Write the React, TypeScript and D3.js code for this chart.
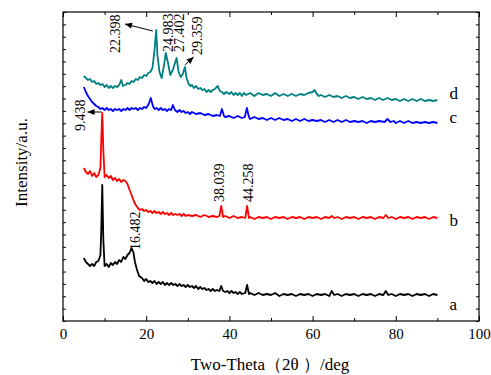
import { useEffect, useRef } from 'react'
import * as d3 from 'd3'

// XRD patterns, two-theta (deg) vs. intensity (a.u., stacked offsets)
const seriesA: [number, number][] = [
  [5, 63], [5.5, 59], [6, 57], [6.5, 55], [7, 57], [7.5, 55], [8, 59], [8.5, 60], [9, 66], [9.2, 91],
  [9.438, 136], [9.7, 81], [10, 55], [10.5, 57], [11, 54], [11.5, 58], [12, 56], [12.5, 59], [13, 57],
  [13.5, 61], [14, 59], [14.5, 64], [15, 62], [15.5, 66], [16, 68], [16.482, 73], [16.9, 69], [17.3, 59],
  [17.8, 51], [18.3, 45], [19, 43], [19.5, 40], [20, 42], [20.5, 39], [21, 40], [21.5, 38], [22, 40],
  [22.5, 37], [23, 39], [23.5, 37], [24, 39], [24.5, 36], [25, 38], [25.5, 36], [26, 38], [26.5, 36],
  [27, 37], [27.5, 35], [28, 37], [28.5, 35], [29, 36], [29.5, 34], [30, 36], [30.5, 34], [31, 35],
  [31.5, 33], [32, 35], [32.5, 32], [33, 34], [33.5, 32], [34, 33], [34.5, 31], [35, 32], [35.5, 30],
  [36, 32], [36.5, 30], [37, 31], [37.6, 30], [38.039, 35], [38.5, 30], [39, 29], [39.5, 30], [40, 28],
  [40.5, 30], [41, 28], [41.5, 29], [42, 27], [42.5, 29], [43, 27], [43.8, 28], [44.258, 36], [44.7, 27],
  [45, 28], [46, 26], [47, 28], [48, 26], [49, 27], [50, 26], [51, 28], [52, 25], [53, 27], [54, 26],
  [55, 27], [56, 25], [57, 27], [58, 26], [59, 27], [60, 25], [61, 27], [62, 26], [63, 27], [64, 25],
  [64.6, 30], [65.2, 26], [66, 27], [67, 25], [68, 27], [69, 26], [70, 27], [71, 25], [72, 27], [73, 26],
  [74, 27], [75, 25], [76, 27], [77, 26], [77.6, 30], [78.2, 26], [79, 27], [80, 25], [81, 27], [82, 26],
  [83, 27], [84, 25], [85, 27], [86, 26], [87, 27], [88, 25], [89, 27], [90, 26],
]

const seriesB: [number, number][] = [
  [5, 153], [5.5, 149], [6, 147], [6.5, 150], [7, 145], [7.5, 148], [8, 144], [8.5, 146], [9, 153], [9.2, 181],
  [9.438, 208], [9.7, 171], [10, 144], [10.5, 146], [11, 143], [11.5, 145], [12, 141], [12.5, 143], [13, 140],
  [13.5, 142], [14, 139], [14.5, 141], [15, 140], [15.5, 137], [16, 131], [16.5, 126], [17, 120], [17.5, 116],
  [18, 113], [18.5, 111], [19, 112], [19.5, 110], [20, 111], [20.5, 109], [21, 110], [21.5, 108], [22, 110],
  [22.5, 108], [23, 109], [23.5, 107], [24, 109], [24.5, 107], [25, 108], [25.5, 106], [26, 108], [26.5, 106],
  [27, 107], [27.5, 106], [28, 107], [28.5, 105], [29, 107], [29.5, 105], [30, 106], [31, 105], [32, 106],
  [33, 104], [34, 106], [35, 104], [36, 105], [37, 104], [37.6, 105], [38.039, 115], [38.5, 104], [39, 105],
  [40, 103], [41, 105], [42, 103], [43, 104], [43.8, 103], [44.258, 115], [44.7, 103], [45, 104], [46, 102],
  [47, 104], [48, 103], [49, 104], [50, 102], [51, 104], [52, 103], [53, 104], [54, 102], [55, 104], [56, 103],
  [57, 104], [58, 102], [59, 104], [60, 103], [61, 104], [62, 102], [63, 104], [64, 103], [64.6, 105],
  [65.2, 103], [66, 104], [67, 102], [68, 104], [69, 103], [70, 104], [71, 102], [72, 104], [73, 103],
  [74, 104], [75, 102], [76, 104], [77, 103], [77.6, 106], [78.2, 103], [79, 104], [80, 102], [81, 104],
  [82, 103], [83, 104], [84, 102], [85, 104], [86, 103], [87, 104], [88, 102], [89, 104], [90, 103],
]

const seriesC: [number, number][] = [
  [5, 234], [5.5, 229], [6, 225], [6.5, 222], [7, 219], [7.5, 217], [8, 215], [8.5, 214], [9, 212], [9.5, 213],
  [10, 211], [10.5, 213], [11, 211], [11.5, 212], [12, 210], [12.5, 212], [13, 211], [13.5, 212], [14, 210],
  [14.5, 212], [15, 211], [15.5, 213], [16, 211], [16.5, 213], [17, 212], [17.5, 213], [18, 211], [18.5, 213],
  [19, 212], [19.5, 214], [20, 213], [20.6, 217], [21.1, 223], [21.6, 215], [22, 212], [22.5, 213], [23, 211],
  [23.5, 213], [24, 211], [24.5, 212], [25, 210], [25.5, 212], [26, 211], [26.4, 216], [26.9, 211], [27.5, 209],
  [28, 211], [28.5, 209], [29, 210], [29.5, 208], [30, 209], [30.5, 207], [31, 209], [32, 207], [33, 208],
  [34, 206], [35, 207], [36, 205], [37, 206], [37.7, 205], [38.2, 212], [38.7, 205], [39, 204], [40, 205],
  [41, 203], [42, 205], [43, 203], [43.7, 204], [44.2, 213], [44.7, 204], [45, 202], [46, 204], [47, 202],
  [48, 203], [49, 201], [50, 203], [51, 201], [52, 203], [53, 201], [54, 202], [55, 200], [56, 202], [57, 200],
  [58, 202], [59, 200], [60, 201], [61, 200], [62, 201], [63, 199], [64, 201], [65, 199], [66, 201], [67, 199],
  [68, 201], [69, 199], [70, 200], [71, 199], [72, 200], [73, 198], [74, 200], [75, 199], [76, 200],
  [77.3, 199], [78, 202], [78.7, 199], [79.5, 200], [80, 198], [81, 200], [82, 198], [83, 200], [84, 198],
  [85, 199], [86, 198], [87, 199], [88, 198], [89, 199], [90, 198],
]

const seriesD: [number, number][] = [
  [5, 245], [5.5, 243], [6, 241], [6.5, 242], [7, 239], [7.5, 240], [8, 237], [8.5, 238], [9, 236], [9.5, 237],
  [10, 234], [10.5, 236], [11, 233], [11.5, 235], [12, 233], [12.5, 235], [13, 234], [13.5, 236], [14, 241],
  [14.4, 235], [15, 236], [15.5, 238], [16, 237], [16.5, 240], [17, 239], [17.5, 242], [18, 241], [18.5, 244],
  [19, 243], [19.5, 246], [20, 245], [20.5, 248], [21, 249], [21.5, 253], [22, 271], [22.398, 291], [22.7, 266],
  [23.2, 249], [23.7, 243], [24.3, 256], [24.7, 268], [25.2, 259], [25.8, 246], [26.4, 251], [27.3, 263],
  [27.8, 249], [28.3, 244], [28.8, 247], [29.3, 254], [29.7, 243], [30.2, 237], [30.7, 235], [31, 236],
  [31.5, 233], [32, 235], [32.5, 232], [33, 233], [33.5, 231], [34, 232], [34.5, 229], [35, 231], [35.5, 229],
  [36, 231], [36.5, 232], [37.2, 235], [37.7, 230], [38.2, 229], [38.7, 227], [39.2, 229], [40, 227],
  [40.5, 229], [41, 226], [41.5, 228], [42, 226], [42.5, 228], [43, 225], [43.5, 228], [44, 226], [45, 228],
  [46, 225], [47, 228], [48, 226], [49, 227], [50, 225], [51, 228], [52, 225], [53, 227], [54, 225], [55, 227],
  [56, 225], [57, 227], [58, 226], [59, 228], [60, 229], [60.5, 231], [61, 227], [61.5, 225], [62, 226],
  [63, 224], [64, 226], [65, 224], [66, 225], [67, 223], [68, 225], [69, 223], [70, 224], [71, 222],
  [72, 224], [73, 222], [74, 223], [75, 221], [76, 223], [77, 221], [78, 223], [79, 221], [80, 222],
  [81, 220], [82, 222], [83, 220], [84, 222], [85, 220], [86, 222], [87, 220], [88, 221], [89, 220], [90, 221],
]

const series = [
  { key: 'a', data: seriesA, color: '#000000', labelAt: 11 },
  { key: 'b', data: seriesB, color: '#ff0000', labelAt: 95 },
  { key: 'c', data: seriesC, color: '#0000ff', labelAt: 198 },
  { key: 'd', data: seriesD, color: '#008080', labelAt: 222 },
]

// peak annotations: [text, theta, intensity] (bottom of rotated text)
const peakLabels: [string, number, number][] = [
  ['22.398', 13.7, 268], ['24.983', 26.4, 269], ['27.402', 29.0, 269], ['29.359', 33.4, 266],
  ['9.438', 5.2, 190], ['38.039', 38.7, 119], ['44.258', 45.6, 119], ['16.482', 18.4, 71],
]
// arrows: [fromTheta, fromI, toTheta, toI]
const arrows: [number, number, number, number][] = [
  [21.6, 290, 14.9, 297],
  [29.3, 256, 31.4, 264],
  [9.3, 209, 5.9, 209],
]

const xTicks = [0, 20, 40, 60, 80, 100]
const xMinor = [10, 30, 50, 70, 90]

const W = 491
const H = 375
const FONT = 'Liberation Serif, Times New Roman, serif'

export default function App() {
  const svgRef = useRef<SVGSVGElement | null>(null)

  useEffect(() => {
    if (!svgRef.current) return
    const svg = d3.select(svgRef.current)
    svg.selectAll('*').remove()

    const margin = { top: 12, right: 12, bottom: 54, left: 63 }
    const width = W - margin.left - margin.right
    const height = H - margin.top - margin.bottom
    const g = svg.append('g').attr('transform', `translate(${margin.left},${margin.top})`)

    const x = d3.scaleLinear().domain([0, 100]).range([0, width])
    const y = d3.scaleLinear().domain([0, 309]).range([height, 0])
    const yTicks = d3.range(0, 26).map(i => (i * 309) / 25)

    // lines
    const line = d3.line<[number, number]>().x(d => x(d[0])).y(d => y(d[1]))
    series.forEach(s => {
      g.append('path').datum(s.data)
        .attr('d', line).attr('fill', 'none')
        .attr('stroke', s.color).attr('stroke-width', 1.8).attr('stroke-linejoin', 'round')
      g.append('text').attr('x', x(92.9)).attr('y', y(s.labelAt))
        .style('font-family', FONT).attr('font-size', '17px').attr('fill', '#000').text(s.key)
    })

    // axes: ticks pointing inward
    const tickStyle = (sel: d3.Selection<SVGGElement, unknown, null, undefined>) => {
      sel.attr('font-family', null)
      sel.select('.domain').remove()
      sel.selectAll('line').attr('stroke', '#000')
      sel.selectAll('text').style('font-family', FONT).attr('font-size', '15px').attr('fill', '#000')
    }
    g.append('g').attr('transform', `translate(0,${height})`)
      .call(d3.axisBottom(x).tickValues(xTicks).tickSize(-5).tickPadding(7).tickFormat(d3.format('d')))
      .call(tickStyle)
    g.append('g').attr('transform', `translate(0,${height})`)
      .call(d3.axisBottom(x).tickValues(xMinor).tickSize(-3).tickFormat(() => ''))
      .call(tickStyle)
    g.append('g').call(d3.axisTop(x).tickValues(xTicks).tickSize(-5).tickFormat(() => '')).call(tickStyle)
    g.append('g').call(d3.axisTop(x).tickValues(xMinor).tickSize(-3).tickFormat(() => '')).call(tickStyle)
    g.append('g').call(d3.axisLeft(y).tickValues(yTicks).tickSize(-3).tickFormat(() => '')).call(tickStyle)
    g.append('g').attr('transform', `translate(${width},0)`)
      .call(d3.axisRight(y).tickValues(yTicks).tickSize(-3).tickFormat(() => '')).call(tickStyle)

    g.append('rect').attr('width', width).attr('height', height)
      .attr('fill', 'none').attr('stroke', '#000').attr('stroke-width', 1.2)

    // peak labels
    peakLabels.forEach(([t, px, py]) => {
      g.append('text')
        .attr('transform', `translate(${x(px)},${y(py)}) rotate(-90)`)
        .style('font-family', FONT).attr('font-size', '14px').attr('fill', '#000').text(t)
    })

    // arrows
    arrows.forEach(([x1, y1, x2, y2]) => {
      const ax = x(x2), ay = y(y2), bx = x(x1), by = y(y1)
      const ang = Math.atan2(ay - by, ax - bx)
      g.append('line').attr('x1', bx).attr('y1', by).attr('x2', ax).attr('y2', ay)
        .attr('stroke', '#000').attr('stroke-width', 1)
      const L = 7, Wd = 3
      const p = [
        [ax, ay],
        [ax - L * Math.cos(ang) + Wd * Math.sin(ang), ay - L * Math.sin(ang) - Wd * Math.cos(ang)],
        [ax - L * Math.cos(ang) - Wd * Math.sin(ang), ay - L * Math.sin(ang) + Wd * Math.cos(ang)],
      ]
      g.append('path').attr('d', `M${p[0][0]},${p[0][1]}L${p[1][0]},${p[1][1]}L${p[2][0]},${p[2][1]}Z`)
        .attr('fill', '#000')
    })

    // axis titles
    svg.append('text').attr('x', margin.left + width / 2 - 1).attr('y', 370)
      .attr('text-anchor', 'middle').style('font-family', FONT).attr('font-size', '17px').attr('fill', '#000')
      .text('Two-Theta（2θ ）/deg')
    svg.append('text').attr('transform', `translate(27,${margin.top + height / 2 - 4}) rotate(-90)`)
      .attr('text-anchor', 'middle').style('font-family', FONT).attr('font-size', '17px').attr('fill', '#000')
      .text('Intensity/a.u.')
  }, [])

  return (
    <svg ref={svgRef} width={W} height={H}
      style={{ position: 'fixed', left: 0, top: 0, background: '#fff' }} />
  )
}
